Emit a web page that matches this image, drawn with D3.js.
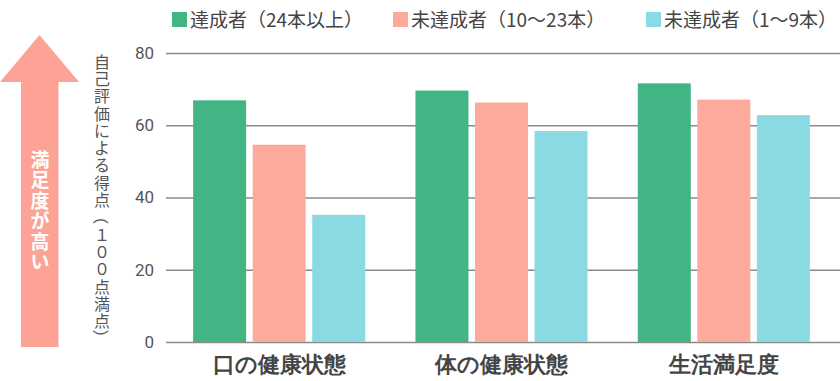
<!DOCTYPE html>
<html>
<head>
<meta charset="utf-8">
<script src="https://cdn.jsdelivr.net/npm/d3@7"></script>
<style>
  body { margin: 0; background: #fff; }
  svg { display: block; font-family: "Noto Sans CJK JP", "Noto Sans", sans-serif; }
</style>
</head>
<body>
<div id="chart"></div>
<script>
//Datos
const categorias = ['口の健康状態', '体の健康状態', '生活満足度'];
const series = ['達成者（24本以上）', '未達成者（10～23本）', '未達成者（1～9本）'];
const valoresAlto = [66.9, 69.6, 71.6];
const valoresMedio = [54.6, 66.3, 67.1];
const valoresBajo = [35.2, 58.4, 62.8];
const ticksY = [0, 20, 40, 60, 80];

//Colores
const COLOR_GREEN = '#43B584',
COLOR_SALMON = '#FCAA9B',
COLOR_CYAN = '#8ADAE4',
COLOR_ARROW = '#FCA395',
COLOR_GRID = '#8a8a8a',
COLOR_TEXT = '#555555';

let width = 840, height = 381;

let svg = d3.select('#chart')
    .append('svg')
      .attr('width', width)
      .attr('height', height);

let data = categorias.map(function(c, i) {
    return { cat: c, vals: [valoresAlto[i], valoresMedio[i], valoresBajo[i]] };
});

//Eje Y
let y = d3.scaleLinear()
    .domain([0, 80])
    .range([342, 53]);

let yAxis = svg.append('g')
    .attr('transform', 'translate(166,0)')
    .call(d3.axisLeft(y).tickValues(ticksY).tickSize(-674).tickPadding(12));

yAxis.select('.domain').remove();
yAxis.selectAll('line').attr('stroke', COLOR_GRID).attr('stroke-width', 1.5);
yAxis.selectAll('text')
    .attr('fill', COLOR_TEXT)
    .style('font-family', 'Roboto, sans-serif')
    .style('font-size', '17px');

//Eje X
let x0 = d3.scaleBand()
    .domain(categorias)
    .range([168, 835])
    .paddingInner(0.226)
    .paddingOuter(0.113);

let x1 = d3.scaleBand()
    .domain(d3.range(series.length))
    .range([0, x0.bandwidth()])
    .paddingInner(0.11);

let color = d3.scaleOrdinal()
    .domain(d3.range(series.length))
    .range([COLOR_GREEN, COLOR_SALMON, COLOR_CYAN]);

svg.append('g')
    .selectAll('g')
    .data(data)
    .enter()
    .append('g')
      .attr('transform', function(d) { return 'translate(' + x0(d.cat) + ',0)'; })
    .selectAll('rect')
    .data(function(d) { return d.vals; })
    .enter()
    .append('rect')
      .attr('x', function(d, i) { return x1(i); })
      .attr('y', function(d) { return y(d); })
      .attr('width', x1.bandwidth())
      .attr('height', function(d) { return y(0) - y(d); })
      .attr('fill', function(d, i) { return color(i); });

let xAxis = svg.append('g')
    .attr('transform', 'translate(0,' + y(0) + ')')
    .call(d3.axisBottom(x0).tickSize(0).tickPadding(14));

xAxis.select('.domain').remove();
xAxis.selectAll('text')
    .attr('fill', '#444')
    .style('font-size', '22px')
    .style('font-weight', 'bold');

//Leyenda
let legendX = [172, 393, 646];
let legend = svg.append('g')
    .selectAll('g')
    .data(series)
    .enter()
    .append('g')
      .attr('transform', function(d, i) { return 'translate(' + legendX[i] + ',12)'; });

legend.append('rect')
    .attr('width', 15)
    .attr('height', 15)
    .attr('fill', function(d, i) { return color(i); });

legend.append('text')
    .attr('x', 18)
    .attr('y', 8)
    .attr('dy', '0.35em')
    .attr('fill', '#444')
    .style('font-size', '19px')
    .text(function(d) { return d; });

//Texto vertical: un carácter por elemento, paréntesis girados
function verticalText(str, cx, top, step, size, fill, weight) {
    let g = svg.append('g')
        .attr('fill', fill)
        .style('font-size', size + 'px')
        .style('font-weight', weight);
    Array.from(str).forEach(function(ch, i) {
        let cy = top + step * i + step / 2;
        let t = g.append('text')
            .attr('x', cx)
            .attr('y', cy)
            .attr('text-anchor', 'middle')
            .attr('dominant-baseline', 'central')
            .text(ch);
        if (ch === '（' || ch === '）') {
            t.attr('transform', 'rotate(90,' + cx + ',' + cy + ')');
        }
    });
    return g;
}

//Flecha
let arrow = d3.path();
arrow.moveTo(39.5, 35);
arrow.lineTo(79, 82);
arrow.lineTo(58.5, 82);
arrow.lineTo(58.5, 347);
arrow.lineTo(21, 347);
arrow.lineTo(21, 82);
arrow.lineTo(0, 82);
arrow.closePath();

svg.append('path')
    .attr('d', arrow.toString())
    .attr('fill', COLOR_ARROW);

//Título eje Y
verticalText('自己評価による得点（１００点満点）', 102, 52, 17.3, 16, COLOR_TEXT, 'normal');

verticalText('満足度が高い', 40, 148, 20.5, 19, '#fff', 'bold');
</script>
</body>
</html>
